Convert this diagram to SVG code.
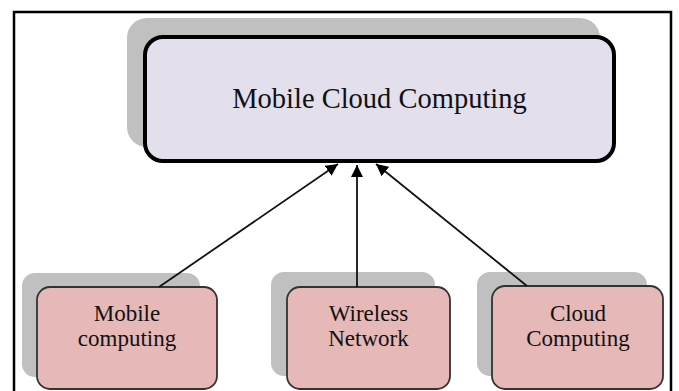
<svg xmlns="http://www.w3.org/2000/svg" width="679" height="391" viewBox="0 0 679 391">
  <style>
    .shadow { fill: #c0c0c0; }
    .main { fill: #e4dfec; stroke: #000; stroke-width: 4; }
    .leaf { fill: #e6b8b7; stroke: #333; stroke-width: 1.8; }
    .title { font-family: "Liberation Serif", "Times New Roman", serif; font-size: 28.5px; fill: #111; text-anchor: middle; }
    .label { font-family: "Liberation Serif", "Times New Roman", serif; font-size: 23px; fill: #111; text-anchor: middle; }
    .edge { stroke: #111; stroke-width: 1.8; fill: none; marker-end: url(#arrow); }
  </style>
  <defs>
    <marker id="arrow" viewBox="0 0 12 12" refX="12" refY="6" markerWidth="12" markerHeight="12" markerUnits="userSpaceOnUse" orient="auto">
      <path d="M0,0 L12,6 L0,12 z" fill="#000"/>
    </marker>
  </defs>

  <rect width="679" height="391" fill="#fff"/>
  <!-- outer frame -->
  <rect x="14" y="12" width="657" height="400" fill="none" stroke="#000" stroke-width="2.5"/>

  <g id="node-mcc">
    <rect class="shadow" x="127" y="18" width="473" height="129" rx="20"/>
    <rect class="main" x="145" y="37" width="469" height="124" rx="18"/>
    <text class="title" x="379.5" y="108">Mobile Cloud Computing</text>
  </g>

  <g id="node-mobile">
    <rect class="shadow" x="22" y="273" width="178" height="104" rx="13"/>
    <rect class="leaf" x="37" y="287" width="180" height="102" rx="13"/>
    <text class="label" x="127" y="321">Mobile</text>
    <text class="label" x="127" y="346">computing</text>
  </g>

  <g id="node-wireless">
    <rect class="shadow" x="271" y="272" width="164" height="104" rx="13"/>
    <rect class="leaf" x="287" y="287" width="163" height="102" rx="13"/>
    <text class="label" x="368.5" y="321">Wireless</text>
    <text class="label" x="368.5" y="346">Network</text>
  </g>

  <g id="node-cloud">
    <rect class="shadow" x="477" y="272" width="170" height="104" rx="13"/>
    <rect class="leaf" x="492" y="286" width="171" height="103" rx="13"/>
    <text class="label" x="578" y="321">Cloud</text>
    <text class="label" x="578" y="346">Computing</text>
  </g>

  <g id="connectors">
    <line class="edge" x1="159" y1="287" x2="338" y2="164"/>
    <line class="edge" x1="357" y1="287" x2="357" y2="165"/>
    <line class="edge" x1="527" y1="286" x2="376" y2="164"/>
  </g>
</svg>
